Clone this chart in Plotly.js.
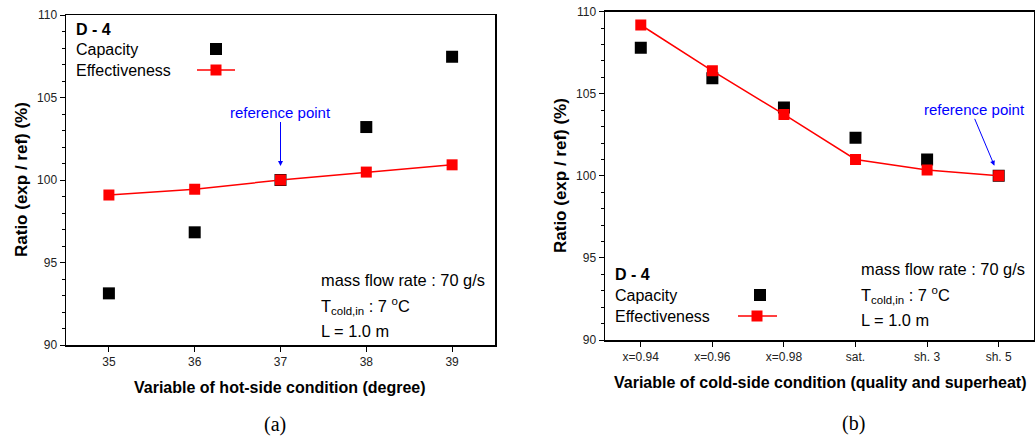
<!DOCTYPE html>
<html>
<head>
<meta charset="utf-8">
<script src="https://cdn.plot.ly/plotly-3.0.1.min.js"></script>
<style>html,body{margin:0;padding:0;background:#fff;}#chart{width:1035px;height:439px;}</style>
</head>
<body>
<div id="chart"></div>
<script>
// Panel (a): hot-side condition
const hotX = [35, 36, 37, 38, 39];
const hotCapacity = [93.13, 96.83, 100.0, 103.21, 107.47];
const hotEffectiveness = [99.09, 99.44, 100.0, 100.48, 100.92];

// Panel (b): cold-side condition
const coldCategories = ['x=0.94', 'x=0.96', 'x=0.98', 'sat.', 'sh. 3', 'sh. 5'];
const coldCapacity = [107.81, 105.94, 104.17, 102.32, 101.0, 100.0];
const coldEffectiveness = [109.19, 106.40, 103.74, 101.0, 100.35, 100.0];

const yTicks = [90, 95, 100, 105, 110];
const seriesNames = ['Capacity', 'Effectiveness'];
const yTitle = 'Ratio (exp / ref) (%)';
const xTitleA = 'Variable of hot-side condition (degree)';
const xTitleB = 'Variable of cold-side condition (quality and superheat)';

const FONT = 'Liberation Sans, Arial, sans-serif';
const SERIF = 'Liberation Serif, Times New Roman, serif';
const W = 1035, H = 439;
const px = v => v / W;
const py = v => 1 - v / H;

const traces = [
  {x: hotX, y: hotCapacity, name: seriesNames[0], type: 'scatter', mode: 'markers', xaxis: 'x', yaxis: 'y',
   marker: {symbol: 'square', size: 12, color: '#000'}},
  {x: hotX, y: hotEffectiveness, name: seriesNames[1], type: 'scatter', mode: 'lines+markers', xaxis: 'x', yaxis: 'y',
   line: {color: '#ff0000', width: 1.5}, marker: {symbol: 'square', size: 11, color: '#ff0000'}},
  {x: coldCategories, y: coldCapacity, name: seriesNames[0], type: 'scatter', mode: 'markers', xaxis: 'x2', yaxis: 'y2',
   marker: {symbol: 'square', size: 12, color: '#000'}},
  {x: coldCategories, y: coldEffectiveness, name: seriesNames[1], type: 'scatter', mode: 'lines+markers', xaxis: 'x2', yaxis: 'y2',
   line: {color: '#ff0000', width: 1.5}, marker: {symbol: 'square', size: 11, color: '#ff0000'}}
];

const axisCommon = {
  showgrid: false, zeroline: false, showline: true, linecolor: '#000', linewidth: 1.5,
  mirror: true, ticks: 'outside', ticklen: 5, tickwidth: 1, tickcolor: '#000',
  tickfont: {family: FONT, size: 12, color: '#222'}
};

const yCommon = Object.assign({}, axisCommon, {
  range: [90, 110], tickvals: yTicks, ticktext: yTicks.map(String),
  minor: {dtick: 1, ticks: 'outside', ticklen: 3, tickcolor: '#000', tickwidth: 1}
});

const layout = {
  width: W, height: H, showlegend: false,
  paper_bgcolor: '#fff', plot_bgcolor: '#fff',
  margin: {l: 0, r: 0, t: 0, b: 0},
  font: {family: FONT},
  xaxis: Object.assign({}, axisCommon, {
    domain: [px(66), px(495)], anchor: 'y', range: [34.5, 39.5], tickvals: hotX
  }),
  yaxis: Object.assign({}, yCommon, {domain: [py(345), py(15)], anchor: 'x'}),
  xaxis2: Object.assign({}, axisCommon, {
    domain: [px(605), 0.9995], anchor: 'y2', type: 'category', range: [-0.5, 5.5]
  }),
  yaxis2: Object.assign({}, yCommon, {domain: [py(340), py(11.7)], anchor: 'x2'}),
  shapes: [
    // legend samples (a)
    {type: 'rect', xref: 'paper', yref: 'paper', x0: px(210), x1: px(222), y0: py(55), y1: py(43), fillcolor: '#000', line: {width: 0}},
    {type: 'line', xref: 'paper', yref: 'paper', x0: px(197), x1: px(235), y0: py(70), y1: py(70), line: {color: '#ff0000', width: 1.5}},
    {type: 'rect', xref: 'paper', yref: 'paper', x0: px(210.5), x1: px(221.5), y0: py(75.5), y1: py(64.5), fillcolor: '#ff0000', line: {width: 0}},
    // legend samples (b)
    {type: 'rect', xref: 'paper', yref: 'paper', x0: px(754), x1: px(766), y0: py(301), y1: py(289), fillcolor: '#000', line: {width: 0}},
    {type: 'line', xref: 'paper', yref: 'paper', x0: px(738), x1: px(777), y0: py(316), y1: py(316), line: {color: '#ff0000', width: 1.5}},
    {type: 'rect', xref: 'paper', yref: 'paper', x0: px(751.5), x1: px(762.5), y0: py(321.5), y1: py(310.5), fillcolor: '#ff0000', line: {width: 0}}
  ],
  annotations: []
};

function txt(x, y, text, opts) {
  return Object.assign({xref: 'paper', yref: 'paper', x: px(x), y: py(y), text: text, showarrow: false,
    borderpad: 0, xanchor: 'left', yanchor: 'middle', font: {family: FONT, size: 16, color: '#000'}}, opts || {});
}

const ann = layout.annotations;
// Axis titles
ann.push(txt(280, 387, '<b>' + xTitleA + '</b>', {xanchor: 'center', font: {family: FONT, size: 16, color: '#000'}}));
ann.push(txt(613, 382, '<b>' + xTitleB + '</b>', {xanchor: 'left', font: {family: FONT, size: 16, color: '#000'}}));
ann.push(txt(21, 180, '<b>' + yTitle + '</b>', {xanchor: 'center', textangle: -90, font: {family: FONT, size: 17, color: '#000'}}));
ann.push(txt(560, 176, '<b>' + yTitle + '</b>', {xanchor: 'center', textangle: -90, font: {family: FONT, size: 17, color: '#000'}}));
// Panel (a) legend text
ann.push(txt(75, 29, '<b>D - 4</b>'));
ann.push(txt(75, 49, seriesNames[0]));
ann.push(txt(75, 70, seriesNames[1]));
// Panel (a) conditions
ann.push(txt(320, 280, 'mass flow rate : 70 g/s', {font: {family: FONT, size: 16.4, color: '#000'}}));
ann.push(txt(320, 306, 'T<sub>cold,in</sub> : 7 <sup>o</sup>C', {font: {family: FONT, size: 16.4, color: '#000'}}));
ann.push(txt(320, 331, 'L = 1.0 m', {font: {family: FONT, size: 16.4, color: '#000'}}));
// Panel (b) legend text
ann.push(txt(614, 274, '<b>D - 4</b>'));
ann.push(txt(614, 295, seriesNames[0]));
ann.push(txt(614, 316, seriesNames[1]));
// Panel (b) conditions
ann.push(txt(860, 269, 'mass flow rate : 70 g/s', {font: {family: FONT, size: 16.4, color: '#000'}}));
ann.push(txt(860, 295, 'T<sub>cold,in</sub> : 7 <sup>o</sup>C', {font: {family: FONT, size: 16.4, color: '#000'}}));
ann.push(txt(860, 320, 'L = 1.0 m', {font: {family: FONT, size: 16.4, color: '#000'}}));
// Reference point arrows
ann.push({xref: 'x', yref: 'y', x: hotX[2], y: hotEffectiveness[2], text: 'reference point',
  showarrow: true, arrowhead: 2, arrowsize: 1, arrowwidth: 1, arrowcolor: '#0000ff', standoff: 14,
  ax: 0, ay: -58, borderpad: 0, xanchor: 'center', yanchor: 'bottom', font: {family: FONT, size: 15, color: '#0000ff'}});
ann.push({xref: 'x2', yref: 'y2', x: coldCategories[5], y: coldEffectiveness[5], text: 'reference point',
  showarrow: true, arrowhead: 2, arrowsize: 1, arrowwidth: 1, arrowcolor: '#0000ff', standoff: 11,
  ax: -24, ay: -57, borderpad: 0, xanchor: 'center', yanchor: 'bottom', font: {family: FONT, size: 15, color: '#0000ff'}});
// Panel labels
ann.push(txt(275, 424, '(a)', {xanchor: 'center', font: {family: SERIF, size: 20, color: '#000'}}));
ann.push(txt(853, 423, '(b)', {xanchor: 'center', font: {family: SERIF, size: 20, color: '#000'}}));

Plotly.newPlot('chart', traces, layout, {displayModeBar: false, staticPlot: true});
</script>
</body>
</html>
